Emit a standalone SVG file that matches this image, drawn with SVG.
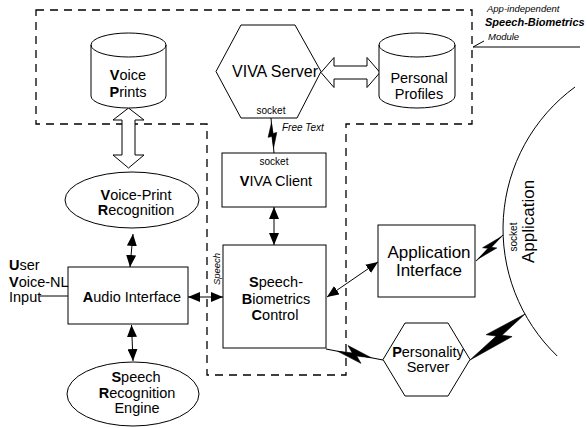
<svg xmlns="http://www.w3.org/2000/svg" width="587" height="428" viewBox="0 0 587 428">
  <style>
    text { font-family: "Liberation Sans", Arial, sans-serif; fill: #000; }
    .t { font-size: 14.5px; text-anchor: middle; }
    .big { font-size: 16px; text-anchor: middle; }
    .app { font-size: 17px; text-anchor: middle; }
    .small { font-size: 10px; text-anchor: middle; }
    .lbl { font-size: 14.5px; }
    .it { font-size: 9.5px; font-style: italic; }
    .b { font-weight: bold; }
    .shape { fill: #fff; stroke: #000; stroke-width: 1; }
    .line { fill: none; stroke: #000; stroke-width: 1; }
    .arrow { fill: none; stroke: #000; stroke-width: 1; marker-start: url(#head); marker-end: url(#head); }
    .bolt { fill: #000; stroke: #000; stroke-width: 0.6; stroke-linejoin: miter; }
    .dash { fill: none; stroke: #000; stroke-width: 1.3; stroke-dasharray: 8 6; }
  </style>
  <defs>
    <marker id="head" viewBox="0 0 12 10" refX="12" refY="5" markerWidth="12" markerHeight="10" markerUnits="userSpaceOnUse" orient="auto-start-reverse">
      <path d="M0,0 L12,5 L0,10 Z" fill="#000"/>
    </marker>
  </defs>
  <rect width="587" height="428" fill="#fff"/>

  <!-- module boundary -->
  <g id="module-boundary">
    <path class="dash" d="M36,10 H472 V124 H346 V375 H207 V124 H36 Z"/>
    <path class="line" d="M473,47 L484,41 M473,47 H580"/>
    <text class="it" x="487" y="12">App-independent</text>
    <text class="it b" x="485" y="26" style="font-size:11px">Speech-Biometrics</text>
    <text class="it" x="488" y="40">Module</text>
  </g>

  <!-- Application (large arc) -->
  <g id="application">
    <path class="line" d="M575,87 A176,176 0 0 0 557.2,356"/>
    <text class="app" transform="translate(534,221.5) rotate(-90)">Application</text>
    <text class="small" transform="translate(517,237) rotate(-90)">socket</text>
  </g>

  <!-- connectors -->
  <g id="connectors">
    <!-- hollow double arrows -->
    <polygon class="shape" points="128.5,108 144,120 135,120 135,155 144,155 128.5,168 113,155 122,155 122,120 113,120"/>
    <polygon class="shape" points="321,72.5 334,57.5 334,66 367,66 367,57.5 380,72.5 367,87.5 367,79 334,79 334,87.5"/>
    <!-- solid double arrows -->
    <line class="arrow" x1="133" y1="234" x2="130" y2="267"/>
    <line class="arrow" x1="131.5" y1="325" x2="133" y2="361"/>
    <line class="arrow" x1="188" y1="297" x2="223" y2="297"/>
    <line class="arrow" x1="274" y1="207" x2="274" y2="245"/>
    <line class="arrow" x1="327" y1="297" x2="378" y2="262"/>
    <!-- user input line -->
    <line class="line" x1="40" y1="296" x2="68" y2="296"/>
    <!-- lightning links -->
    <g transform="translate(271,118) rotate(85.1)">
      <line class="line" x1="0" y1="0" x2="35.1" y2="0"/>
      <polygon class="bolt" points="5,0 19,4.5 18.5,0.7 30,0 15,-4.5 15.5,-0.7"/>
    </g>
    <g transform="translate(326,349) rotate(10.9)">
      <line class="line" x1="0" y1="0" x2="58" y2="0"/>
      <polygon class="bolt" points="12,0 37,7.5 31.5,1.1 46,0 21,-7.5 26.5,-1.1"/>
    </g>
    <g transform="translate(470,360) rotate(-39.9)">
      <polygon class="bolt" points="0,0 47.3,9 40.5,1.5 71.7,0 28.7,-9 35.5,-1.5"/>
    </g>
    <g transform="translate(476,261) rotate(-43.9)">
      <line class="line" x1="0" y1="0" x2="37.5" y2="0"/>
      <polygon class="bolt" points="3,0 24,5 20.5,0.8 35,0 14,-5 17.5,-0.8"/>
    </g>
  </g>

  <!-- nodes -->
  <g id="voice-prints">
    <path class="shape" d="M91,45 A37.5,12 0 0 1 166,45 V96 A37.5,12 0 0 1 91,96 Z"/>
    <path class="line" d="M91,45 A37.5,12 0 0 0 166,45"/>
    <text class="t" x="128" y="80"><tspan class="b">V</tspan>oice</text>
    <text class="t" x="128" y="97"><tspan class="b">P</tspan>rints</text>
  </g>

  <g id="viva-server">
    <polygon class="shape" points="216,71.5 241,25 295,25 321,71.5 297,118 241,118"/>
    <text class="big" x="275" y="77">VIVA Server</text>
    <text class="small" x="271" y="114">socket</text>
  </g>

  <g id="personal-profiles">
    <path class="shape" d="M379,45 A38,12 0 0 1 455,45 V96 A38,12 0 0 1 379,96 Z"/>
    <path class="line" d="M379,45 A38,12 0 0 0 455,45"/>
    <text class="t" x="419" y="83">Personal</text>
    <text class="t" x="419" y="99">Profiles</text>
  </g>

  <g id="voice-print-recognition">
    <ellipse class="shape" cx="132" cy="200" rx="67" ry="28"/>
    <text class="t" x="136" y="200"><tspan class="b">V</tspan>oice-Print</text>
    <text class="t" x="136" y="215"><tspan class="b">R</tspan>ecognition</text>
  </g>

  <g id="viva-client">
    <rect class="shape" x="222" y="153" width="104" height="54"/>
    <text class="small" x="274" y="165">socket</text>
    <text class="t" x="276" y="186"><tspan class="b">V</tspan>IVA Client</text>
    <text class="it" x="282" y="131" style="font-size:10px">Free Text</text>
  </g>

  <g id="audio-interface">
    <rect class="shape" x="68" y="267" width="120" height="57"/>
    <text class="t" x="132" y="302"><tspan class="b">A</tspan>udio Interface</text>
    <text class="lbl" x="9" y="270"><tspan class="b">U</tspan>ser</text>
    <text class="lbl" x="9" y="287"><tspan class="b">V</tspan>oice-NL</text>
    <text class="lbl" x="9" y="302">Input</text>
  </g>

  <g id="speech-biometrics-control">
    <rect class="shape" x="223" y="245" width="103" height="103"/>
    <text class="t" x="276" y="287"><tspan class="b">S</tspan>peech-</text>
    <text class="t" x="276" y="303.5"><tspan class="b">B</tspan>iometrics</text>
    <text class="t" x="275" y="320"><tspan class="b">C</tspan>ontrol</text>
    <text class="it" transform="translate(219.5,269) rotate(-90)" text-anchor="middle">Speech</text>
  </g>

  <g id="application-interface">
    <rect class="shape" x="378" y="225" width="97" height="72"/>
    <text class="app" x="429" y="258">Application</text>
    <text class="app" x="429" y="276">Interface</text>
  </g>

  <g id="speech-recognition-engine">
    <ellipse class="shape" cx="133" cy="394" rx="66" ry="32"/>
    <text class="t" x="136" y="382"><tspan class="b">S</tspan>peech</text>
    <text class="t" x="137" y="398"><tspan class="b">R</tspan>ecognition</text>
    <text class="t" x="137" y="413">Engine</text>
  </g>

  <g id="personality-server">
    <polygon class="shape" points="383,359.5 405,323 448,323 470,359.5 448,396 405,396"/>
    <text class="t" x="428" y="357"><tspan class="b">P</tspan>ersonality</text>
    <text class="t" x="428" y="372">Server</text>
  </g>
</svg>
